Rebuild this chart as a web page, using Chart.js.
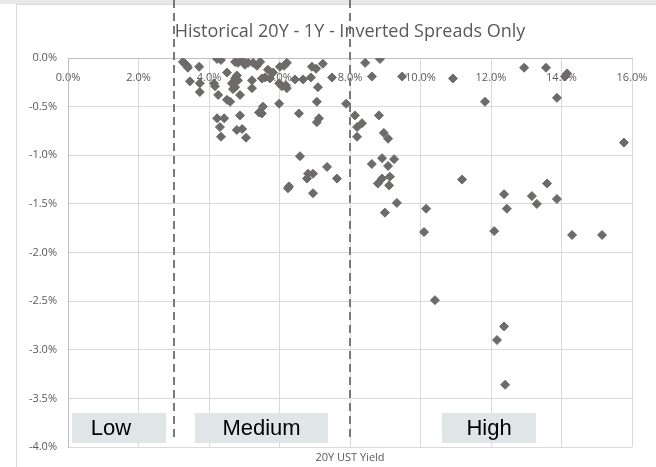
<!DOCTYPE html>
<html>
<head>
<meta charset="utf-8">
<script src="https://cdn.jsdelivr.net/npm/chart.js@4.4.1/dist/chart.umd.min.js"></script>
<style>
body { margin: 0; background: #fff; }
</style>
</head>
<body>
<canvas id="myChart" width="656" height="467"></canvas>
<script>
// 20Y UST yield (%) and 20Y - 1Y spread (%), inverted months only
const yieldValues = [
  3.26, 3.32, 3.38, 3.40, 3.72, 3.46, 3.74, 3.74, 4.23, 4.34,
  4.51, 4.14, 4.17, 4.26, 4.51, 4.60, 4.74, 4.82, 4.94, 5.02,
  5.11, 5.25, 5.36, 5.45, 4.79, 4.74, 4.82, 4.65, 4.74, 4.68,
  4.88, 5.22, 5.22, 5.50, 5.59, 5.67, 5.82, 5.73, 6.01, 6.13,
  6.21, 5.99, 6.07, 6.18, 6.21, 6.44, 6.67, 6.89, 6.92, 7.04,
  7.23, 7.49, 7.09, 7.06, 5.99, 5.42, 5.53, 5.50, 4.88, 4.23,
  4.43, 4.31, 4.34, 4.79, 4.94, 5.05, 6.55, 7.12, 7.06, 6.58,
  7.35, 6.81, 6.95, 6.78, 7.63, 6.27, 6.24, 6.95, 7.89, 8.14,
  8.82, 8.20, 8.34, 8.20, 8.96, 9.08, 8.91, 9.25, 8.62, 9.08,
  8.91, 9.13, 8.79, 9.11, 9.33, 8.99, 10.16, 10.10, 8.43, 8.85,
  8.62, 9.48, 10.92, 12.94, 13.56, 14.16, 14.10, 11.83, 13.87, 15.77,
  11.18, 13.59, 12.37, 13.16, 13.87, 12.45, 13.30, 12.09, 14.30, 15.15,
  10.41, 12.37, 12.17, 12.40
];
const spreadValues = [
  -0.04, -0.06, -0.08, -0.10, -0.09, -0.24, -0.26, -0.35, -0.01, -0.02,
  -0.15, -0.26, -0.29, -0.38, -0.43, -0.45, -0.04, -0.05, -0.02, -0.07,
  -0.05, -0.05, -0.08, -0.04, -0.18, -0.21, -0.23, -0.26, -0.30, -0.32,
  -0.38, -0.23, -0.31, -0.21, -0.20, -0.12, -0.15, -0.21, -0.09, -0.08,
  -0.05, -0.26, -0.29, -0.28, -0.31, -0.22, -0.22, -0.20, -0.09, -0.11,
  -0.06, -0.20, -0.30, -0.45, -0.47, -0.56, -0.50, -0.57, -0.59, -0.62,
  -0.62, -0.71, -0.81, -0.74, -0.73, -0.82, -0.57, -0.62, -0.66, -1.01,
  -1.12, -1.19, -1.19, -1.24, -1.24, -1.32, -1.34, -1.39, -0.47, -0.59,
  -0.59, -0.71, -0.67, -0.81, -0.77, -0.83, -1.03, -1.04, -1.09, -1.11,
  -1.24, -1.22, -1.29, -1.31, -1.49, -1.59, -1.55, -1.79, -0.05, -0.01,
  -0.19, -0.19, -0.21, -0.10, -0.10, -0.16, -0.19, -0.45, -0.41, -0.87,
  -1.25, -1.29, -1.40, -1.42, -1.45, -1.55, -1.50, -1.78, -1.82, -1.82,
  -2.49, -2.76, -2.90, -3.36
];
const zoneNames = ["Low", "Medium", "High"];
const zoneBreaks = [3, 8];

const textGray = "#595959";
const baseFont = "'Open Sans', sans-serif";

const points = yieldValues.map((x, i) => ({ x: x, y: spreadValues[i] }));

// sheet background, dashed regime lines and the zone labels
const regimePlugin = {
  id: "regimes",
  beforeDraw(chart) {
    const ctx = chart.ctx;
    ctx.save();
    ctx.fillStyle = "#fff";
    ctx.fillRect(0, 0, chart.width, chart.height);
    ctx.fillStyle = "#e9e9e9";
    ctx.fillRect(0, 0, chart.width, 4);
    ctx.strokeStyle = "#d9d9d9";
    ctx.lineWidth = 1;
    ctx.beginPath();
    ctx.moveTo(16.5, 4);
    ctx.lineTo(16.5, chart.height);
    ctx.moveTo(16, 4.5);
    ctx.lineTo(chart.width, 4.5);
    ctx.stroke();
    ctx.restore();
  },
  afterDraw(chart) {
    const ctx = chart.ctx;
    const xs = chart.scales.x;
    const ys = chart.scales.y;
    ctx.save();
    ctx.strokeStyle = "#7a7a7a";
    ctx.lineWidth = 2;
    ctx.setLineDash([8, 5]);
    zoneBreaks.forEach(b => {
      const px = Math.round(xs.getPixelForValue(b));
      ctx.beginPath();
      ctx.moveTo(px, 0);
      ctx.lineTo(px, chart.chartArea.bottom - 5);
      ctx.stroke();
    });
    ctx.setLineDash([]);

    const boxes = [[0.11, 2.78], [3.60, 7.38], [10.61, 13.28]];
    const top = ys.getPixelForValue(-3.65);
    const bottom = ys.getPixelForValue(-3.96);
    ctx.font = "22px 'Liberation Sans', Arial, sans-serif";
    ctx.textAlign = "center";
    ctx.textBaseline = "middle";
    boxes.forEach((b, i) => {
      const l = xs.getPixelForValue(b[0]);
      const r = xs.getPixelForValue(b[1]);
      ctx.fillStyle = "#e0e5e8";
      ctx.fillRect(l, top, r - l, bottom - top);
      ctx.fillStyle = "#000";
      const shift = i === 0 ? -8 : 0;
      ctx.fillText(zoneNames[i], (l + r) / 2 + shift, (top + bottom) / 2 + 1);
    });
    ctx.restore();
  }
};

new Chart(document.getElementById("myChart"), {
  type: "scatter",
  data: {
    datasets: [{
      label: "20Y - 1Y",
      data: points,
      pointStyle: "rectRot",
      pointRadius: 4.5,
      pointHoverRadius: 4.5,
      backgroundColor: "#6e6a6a",
      borderColor: "#6e6a6a",
      borderWidth: 1
    }]
  },
  options: {
    responsive: false,
    devicePixelRatio: 1,
    animation: false,
    layout: { padding: { top: 4, left: 16, right: 24, bottom: 0 } },
    plugins: {
      legend: { display: false },
      tooltip: { enabled: false },
      title: {
        display: true,
        text: "Historical 20Y - 1Y - Inverted Spreads Only",
        color: textGray,
        fullSize: false,
        font: { family: baseFont, size: 18, weight: "normal", lineHeight: 1.2 },
        padding: { top: 17, bottom: 15.4 }
      },
      subtitle: {
        display: true,
        position: "bottom",
        text: "20Y UST Yield",
        color: textGray,
        fullSize: false,
        font: { family: baseFont, size: 11, lineHeight: 1.2 },
        padding: { top: 4.4, bottom: 2.4 }
      }
    },
    scales: {
      x: {
        type: "linear",
        position: { y: 0 },
        min: 0,
        max: 16,
        afterFit: s => { s.paddingLeft = 0; s.paddingRight = 0; },
        ticks: {
          stepSize: 2,
          padding: 13,
          color: textGray,
          font: { family: baseFont, size: 11 },
          callback: v => v.toFixed(1) + "%"
        },
        grid: { color: "#d9d9d9", drawTicks: false },
        border: { color: "#bfbfbf" }
      },
      y: {
        type: "linear",
        min: -4,
        max: 0,
        afterFit: s => { s.width = 52; },
        ticks: {
          stepSize: 0.5,
          padding: 11,
          color: textGray,
          font: { family: baseFont, size: 11 },
          callback: v => v.toFixed(1) + "%"
        },
        grid: { color: "#d9d9d9", drawTicks: false },
        border: { color: "#bfbfbf" }
      }
    }
  },
  plugins: [regimePlugin]
});
</script>
</body>
</html>
